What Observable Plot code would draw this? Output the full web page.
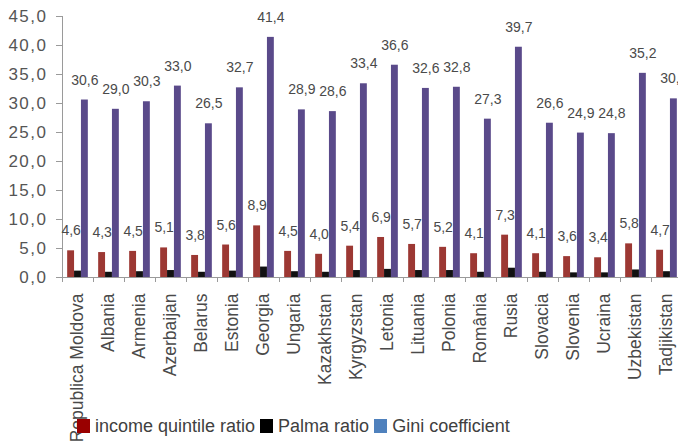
<!DOCTYPE html>
<html><head><meta charset="utf-8">
<script src="https://cdn.jsdelivr.net/npm/d3@7"></script>
<script src="https://cdn.jsdelivr.net/npm/@observablehq/plot@0.6"></script>
<style>
html,body{margin:0;padding:0;background:#fff;}
body{width:678px;height:448px;overflow:hidden;font-family:"Liberation Sans",Arial,sans-serif;}
#chart svg{overflow:visible;display:block;}
#chart svg g[aria-label="y-axis tick label"] text{letter-spacing:1.5px;}
#legend{position:relative;height:30px;line-height:32px;padding-left:77px;font-size:18px;color:#404040;white-space:nowrap;}
#legend .sw{display:inline-block;width:13px;height:14px;vertical-align:-1px;margin-right:5px;}
#legend .it{margin-right:5px;}
</style></head><body>
<div id="chart"></div>
<div id="legend"></div>
<script>
const countries = ["Republica Moldova","Albania","Armenia","Azerbaijan","Belarus","Estonia","Georgia","Ungaria","Kazakhstan","Kyrgyzstan","Letonia","Lituania","Polonia","România","Rusia","Slovacia","Slovenia","Ucraina","Uzbekistan","Tadjikistan"];
const incomeQuintile = [4.6,4.3,4.5,5.1,3.8,5.6,8.9,4.5,4.0,5.4,6.9,5.7,5.2,4.1,7.3,4.1,3.6,3.4,5.8,4.7];
const palmaRatio = [1.1,0.9,1.0,1.2,0.9,1.1,1.8,1.0,0.9,1.2,1.4,1.2,1.2,0.9,1.6,0.9,0.8,0.8,1.3,1.0];
const giniCoef = [30.6,29.0,30.3,33.0,26.5,32.7,41.4,28.9,28.6,33.4,36.6,32.6,32.8,27.3,39.7,26.6,24.9,24.8,35.2,30.8];
const seriesNames = ["income quintile ratio","Palma ratio","Gini coefficient"];
const barColors = ["#9c3833","#111111","#5a4a8a"];
const legendColors = ["#990000","#000000","#4f81bd"];
const yTicks = [0,5,10,15,20,25,30,35,40,45];

const W = 678, H = 410, mL = 62, mR = -4, mT = 16, mB = 133;
const bw = (W - mL - mR) / countries.length;
const w = bw / 4.5;
const rows = countries.map((c, i) => ({country: c, income: incomeQuintile[i], palma: palmaRatio[i], gini: giniCoef[i]}));
const fmt = d => d.toFixed(1).replace(".", ",");
const textColor = "#4a4a4a";

const chart = Plot.plot({
  width: W, height: H,
  marginLeft: mL, marginRight: mR, marginTop: mT, marginBottom: mB,
  style: {fontFamily: "'Liberation Sans', Arial, sans-serif", background: "white", overflow: "visible"},
  x: {domain: countries, padding: 0, axis: null, label: null},
  y: {domain: [0, 45], axis: null, label: null},
  marks: [
    Plot.barY(rows, {x: "country", y: "income", fill: barColors[0], insetLeft: 0.75 * w, insetRight: bw - 1.75 * w}),
    Plot.barY(rows, {x: "country", y: "palma", fill: barColors[1], insetLeft: 1.75 * w, insetRight: bw - 2.75 * w}),
    Plot.barY(rows, {x: "country", y: "gini", fill: barColors[2], insetLeft: 2.75 * w, insetRight: 0.75 * w}),
    Plot.ruleY([0], {stroke: "#9a9a9a"}),
    Plot.ruleX([countries[0]], {dx: -bw / 2, y1: 0, y2: 45, stroke: "#9a9a9a"}),
    Plot.axisY({ticks: yTicks, tickFormat: fmt, tickSize: 6, tickPadding: 9, fontSize: 17, stroke: "#9a9a9a", fill: "#555", label: null}),
    Plot.axisX({tickSize: 5, tickFormat: () => "", dx: -bw / 2, stroke: "#9a9a9a", label: null}),
    Plot.axisX({tickSize: 0, tickPadding: 16, tickRotate: -90, fontSize: 17.5, fill: textColor, dx: -1, label: null}),
    Plot.text(rows, {x: "country", y: "income", text: d => fmt(d.income), dx: -w, dy: -20, fontSize: 14, fill: textColor}),
    Plot.text(rows, {x: "country", y: "gini", text: d => fmt(d.gini), dx: w, dy: -20, fontSize: 14, fill: textColor})
  ]
});
document.getElementById("chart").appendChild(chart);

const legend = document.getElementById("legend");
seriesNames.forEach((name, i) => {
  const sw = document.createElement("span");
  sw.className = "sw";
  sw.style.background = legendColors[i];
  const it = document.createElement("span");
  it.className = "it";
  it.textContent = name;
  legend.appendChild(sw);
  legend.appendChild(it);
});
</script>
</body></html>
